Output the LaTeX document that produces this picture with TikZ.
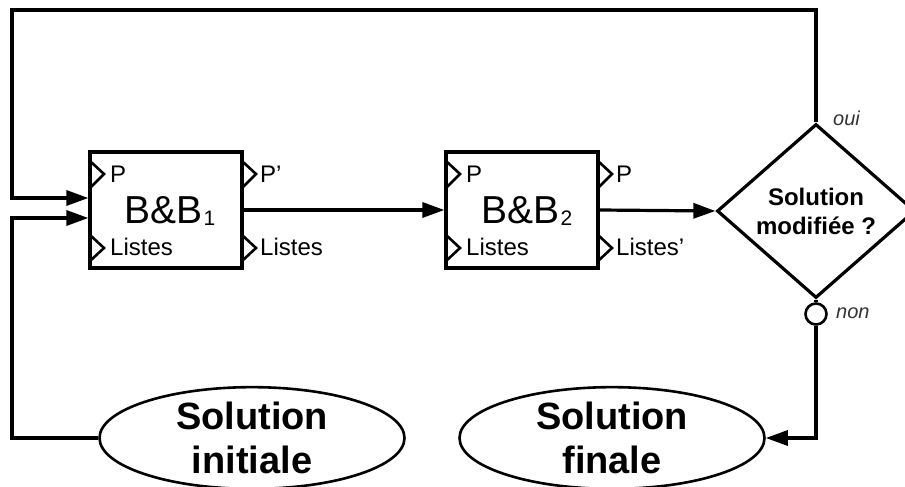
\documentclass[tikz,border=0pt]{standalone}
\usepackage{fontspec}
\setmainfont{Liberation Sans}
\usetikzlibrary{arrows.meta,shapes.geometric}
\begin{document}
\begin{tikzpicture}[x=1pt,y=-1pt,
  conn/.style={line width=3.2pt},
  arr/.style={conn,-{Triangle[length=22pt,width=15pt]}},
  bbbox/.style={draw,line width=3.2pt,minimum width=152pt,minimum height=116pt,inner sep=0pt},
  port/.style={line width=2.6pt,line join=miter},
  portlbl/.style={anchor=west,inner sep=0pt,font=\fontsize{24}{24}\selectfont},
  bbname/.style={inner sep=0pt,font=\fontsize{39}{39}\selectfont},
  decision/.style={draw,diamond,line width=3.2pt,minimum width=198pt,minimum height=174pt,inner sep=0pt,align=center,font=\fontsize{24}{29}\selectfont\bfseries},
  term/.style={draw,ellipse,line width=2.6pt,minimum width=305pt,minimum height=92pt,inner sep=0pt,align=center,font=\fontsize{38}{44}\selectfont\bfseries},
  answer/.style={inner sep=0pt,font=\fontsize{20}{20}\selectfont\itshape,text=black!80},
  pics/ports/.style={code={
    \draw[port] (0,9) -- (14,22) -- (0,36);
    \draw[port] (0,83) -- (14,96) -- (0,109);
    \draw[port] (152,9) -- (166,22) -- (152,36);
    \draw[port] (152,83) -- (166,96) -- (152,109);
  }}
]
\useasboundingbox (0,0) rectangle (905,487);

% boxes
\node[bbbox] (b1) at (166,210) {};
\node[bbbox] (b2) at (522,210) {};
\pic at (90,152) {ports};
\pic at (446,152) {ports};

\node[bbname] (n1) at (170,211) {B\&B\hspace{1pt}{\fontsize{21}{21}\selectfont\raisebox{-2pt}{1}}};
\node[bbname] (n2) at (527,211) {B\&B\hspace{1pt}{\fontsize{21}{21}\selectfont\raisebox{-2pt}{2}}};

\node[portlbl] (p1a) at (110,174) {P};
\node[portlbl] (p1b) at (110,247) {Listes};
\node[portlbl] (p1c) at (260,174) {P’};
\node[portlbl] (p1d) at (260,247) {Listes};
\node[portlbl] (p2a) at (466,174) {P};
\node[portlbl] (p2b) at (466,247) {Listes};
\node[portlbl] (p2c) at (616,174) {P};
\node[portlbl] (p2d) at (616,247) {Listes’};

% decision
\node[decision] (dia) at (816,211) {Solution\\modifiée ?};
\node[draw,circle,line width=2.6pt,minimum size=21pt,inner sep=0pt] (nc) at (816,314) {};
\node[answer,anchor=west] (oui) at (833,118) {oui};
\node[answer,anchor=west] (non) at (836,313) {non};

% terminals
\node[term] (e1) at (252,438) {Solution\\initiale};
\node[term] (e2) at (612,438) {Solution\\finale};

\coordinate (tl) at (12,10);
\coordinate (bl) at (12,438);

% connectors
\draw[arr] (b1.east) -- (b2.west);
\draw[arr] (b2.east) -- (dia.west);
\draw[arr] (dia.north) |- (tl) |- ([yshift=12pt]b1.west);
\draw[arr] (e1.west) -- (bl) |- ([yshift=-8pt]b1.west);
\draw[conn] (dia.south) -- (nc.north);
\draw[arr] (nc.south) |- (e2.east);
\end{tikzpicture}
\end{document}
